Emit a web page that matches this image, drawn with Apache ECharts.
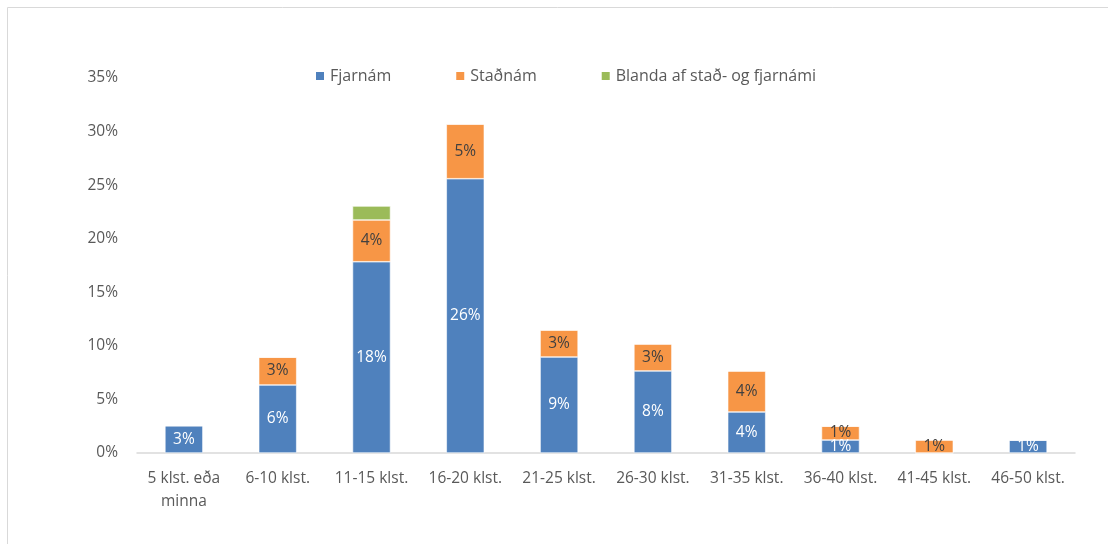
<!DOCTYPE html>
<html>
<head>
<meta charset="utf-8">
<script src="https://cdn.jsdelivr.net/npm/echarts@6/dist/echarts.min.js"></script>
<style>
html,body{margin:0;padding:0;background:#fff;}
#chart{width:1108px;height:544px;}
</style>
</head>
<body>
<div id="chart"></div>
<script>
const categories = ['5 klst. eða\nminna','6-10 klst.','11-15 klst.','16-20 klst.','21-25 klst.','26-30 klst.','31-35 klst.','36-40 klst.','41-45 klst.','46-50 klst.'];
const fjarnam = [2.55, 6.35, 17.85, 25.6, 8.96, 7.66, 3.83, 1.21, 0, 1.21];
const stadnam = [0, 2.6, 3.9, 5.1, 2.52, 2.52, 3.83, 1.3, 1.22, 0];
const blanda = [0, 0, 1.3, 0, 0, 0, 0, 0, 0, 0];
const seriesNames = ['Fjarnám','Staðnám','Blanda af stað- og fjarnámi'];
const yTicks = {min:0, max:35, interval:5};

const FONT = '"Open Sans", "Noto Sans", sans-serif';
const chart = echarts.init(document.getElementById('chart'));
function lbl(color){
  return {
    show:true, position:'inside', color:color, fontFamily:FONT, fontSize:15.5,
    formatter: p => p.value > 0 ? Math.round(p.value) + '%' : ''
  };
}
chart.setOption({
  animation:false,
  textStyle:{fontFamily:FONT},
  graphic:[
    {type:'line', shape:{x1:7.5,y1:7.5,x2:1108,y2:7.5}, style:{stroke:'#d9d9d9',lineWidth:1}},
    {type:'line', shape:{x1:7.5,y1:7.5,x2:7.5,y2:544}, style:{stroke:'#d9d9d9',lineWidth:1}}
  ],
  legend:{
    data:seriesNames, left:309, top:63, itemWidth:10, itemHeight:10, itemGap:63,
    icon:'rect',
    textStyle:{color:'#595959', fontSize:16, fontFamily:FONT}
  },
  grid:{left:137, right:33, top:78, bottom:91},
  xAxis:{
    type:'category', data:categories,
    axisLine:{lineStyle:{color:'#d9d9d9', width:1.5}},
    axisTick:{show:false},
    axisLabel:{color:'#595959', fontSize:15.5, fontFamily:FONT, margin:14, lineHeight:23, interval:0}
  },
  yAxis:{
    type:'value', min:yTicks.min, max:yTicks.max, interval:yTicks.interval,
    axisLine:{show:false}, axisTick:{show:false}, splitLine:{show:false},
    axisLabel:{color:'#595959', fontSize:15.5, fontFamily:FONT, margin:19, formatter:'{value}%'}
  },
  series:[
    {name:seriesNames[0], type:'bar', stack:'a', data:fjarnam, barWidth:38,
     itemStyle:{color:'#4f81bd', borderColor:'#ffffff', borderWidth:0.6}, label:lbl('#ffffff')},
    {name:seriesNames[1], type:'bar', stack:'a', data:stadnam,
     itemStyle:{color:'#f79646', borderColor:'#ffffff', borderWidth:0.6}, label:lbl('#404040')},
    {name:seriesNames[2], type:'bar', stack:'a', data:blanda,
     itemStyle:{color:'#9bbb59', borderColor:'#ffffff', borderWidth:0.6}, label:{show:false}}
  ]
});
</script>
</body>
</html>
